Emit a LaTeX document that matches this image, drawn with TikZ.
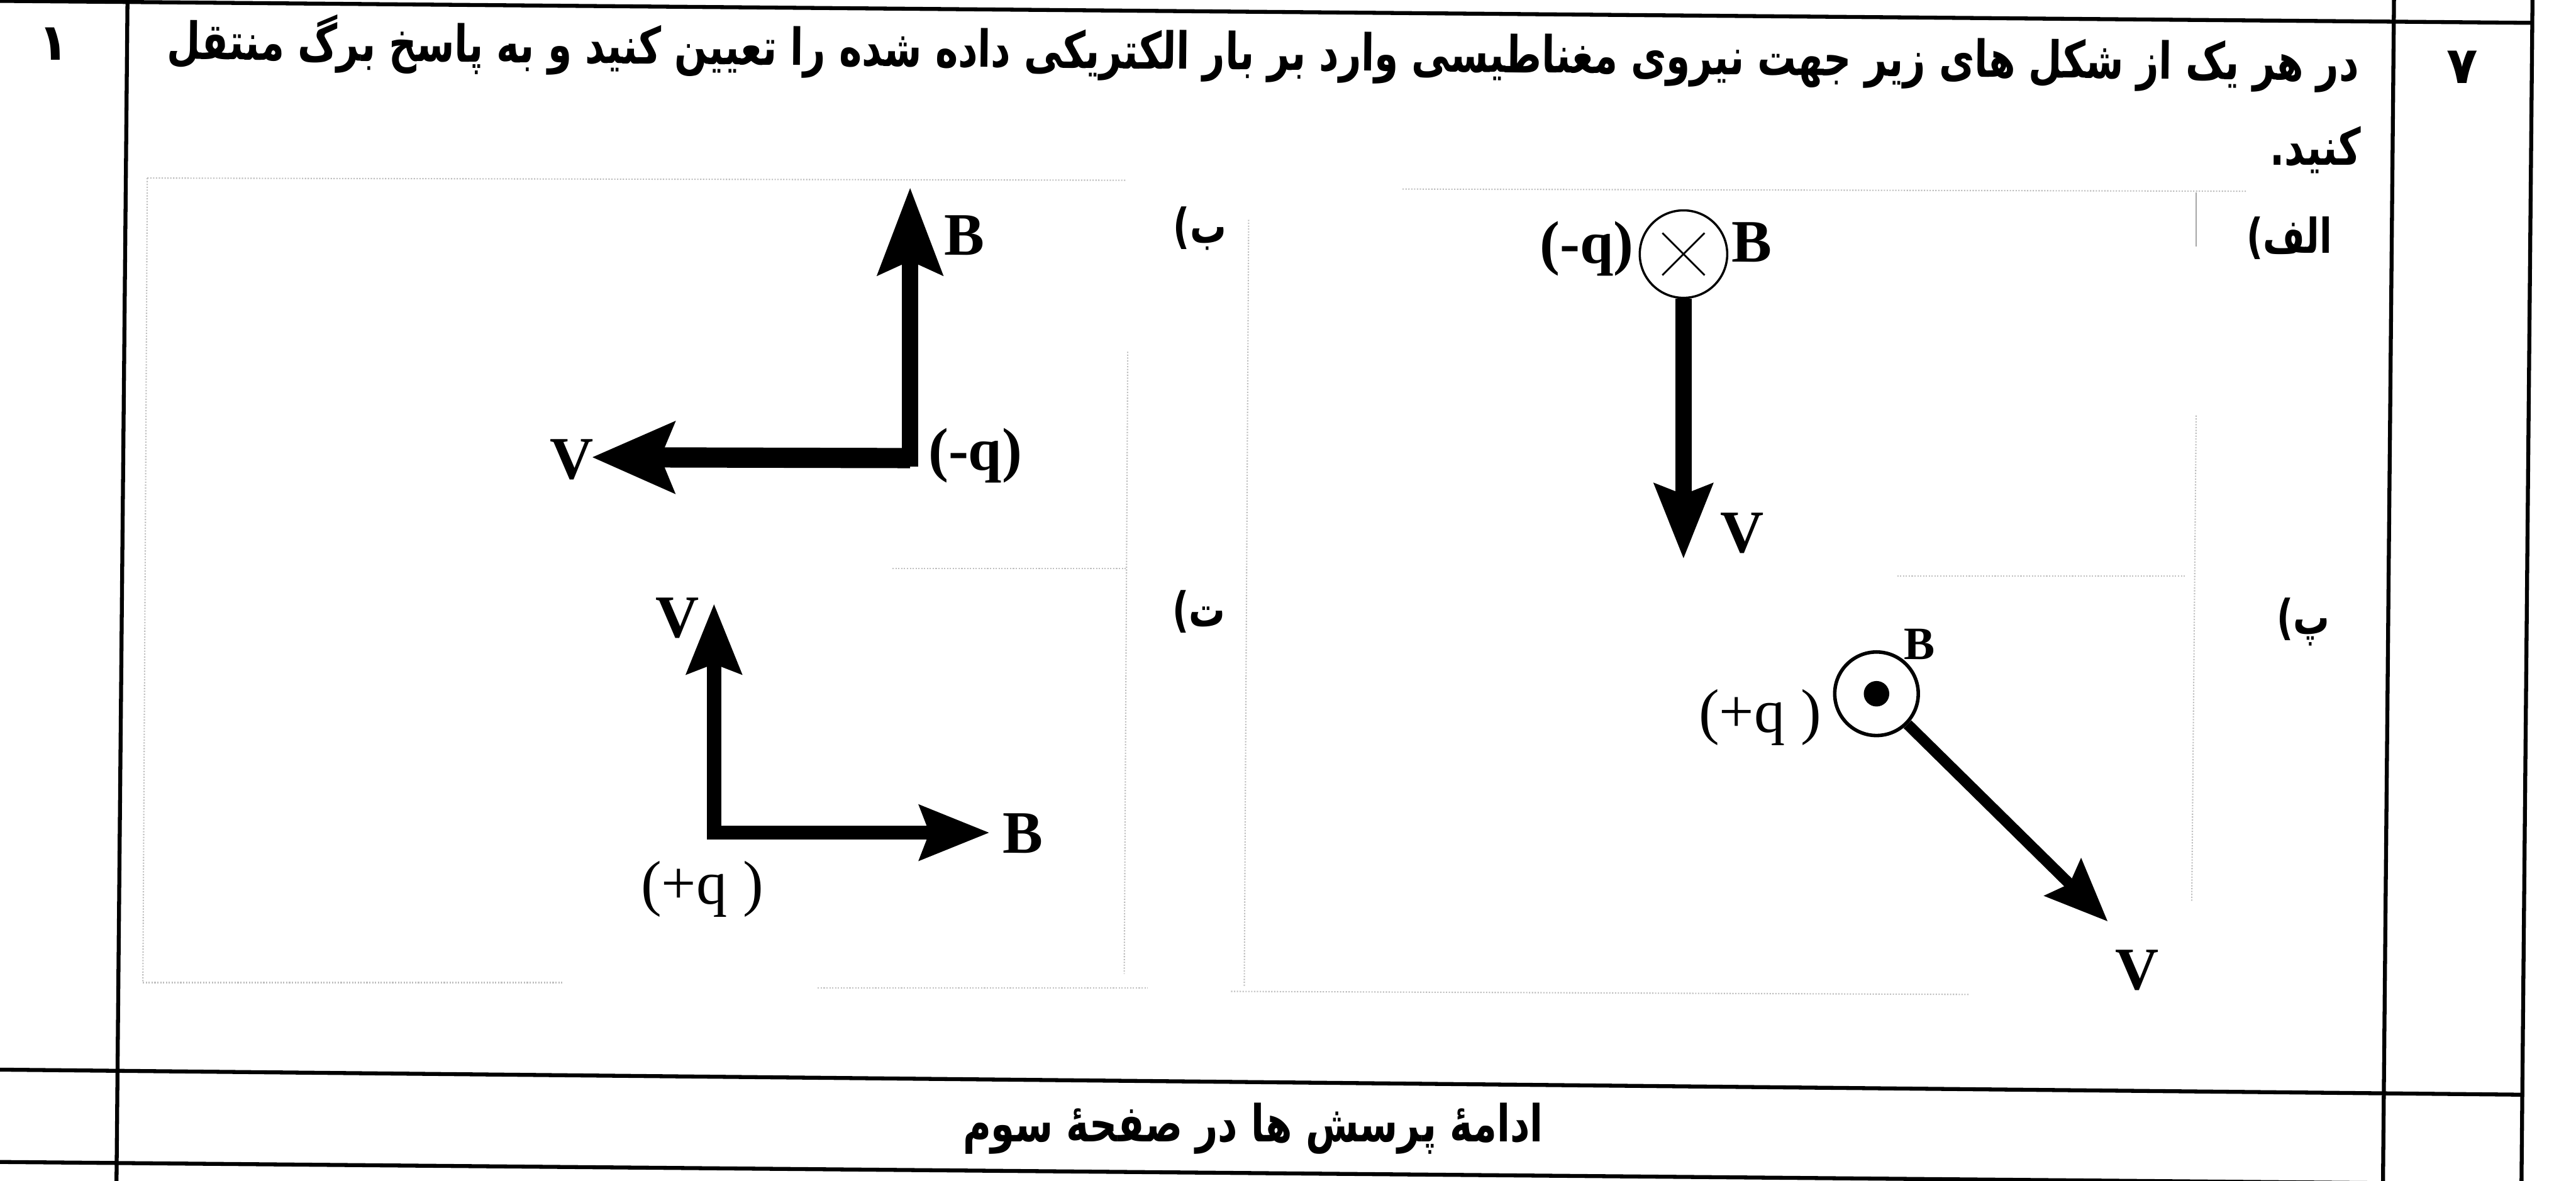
\documentclass[tikz,border=0pt]{standalone}
\usepackage{fontspec}
\usepackage{graphicx}
\setmainfont{Liberation Serif}
\newfontfamily\farsi[Script=Arabic]{DejaVu Sans}
\TeXXeTstate=1
\usetikzlibrary{arrows.meta}
% narrow the Persian lines a little, as in the scanned sheet
\newcommand{\rtl}[1]{\scalebox{0.755}[1]{\beginR #1\endR}}

\begin{document}
\begin{tikzpicture}
\tikzstyle{tablerule} = [line width=0.09cm]
\tikzstyle{scanframe} = [gray!50, densely dotted, line width=0.03cm]
\tikzstyle{fa} = [font=\farsi\bfseries\fontsize{33}{40}\selectfont, inner sep=0]
\tikzstyle{part} = [font=\farsi\bfseries\fontsize{31}{37}\selectfont, inner sep=0]
\tikzstyle{digit} = [font=\farsi\bfseries\fontsize{33}{40}\selectfont, inner sep=0]
\tikzstyle{lbl} = [font=\bfseries\fontsize{39}{44}\selectfont, inner sep=0]
\tikzstyle{chg} = [font=\fontsize{40}{46}\selectfont, inner sep=0]

\clip (0,0) rectangle (58.59,-26.86);
\fill[white] (0,0) rectangle (58.59,-26.86);

% table
\draw[tablerule] (0,-0.02) -- (57.60,-0.52);
\draw[tablerule] (0,-24.33) -- (57.36,-24.90);
\draw[tablerule] (0,-26.43) -- (58.59,-26.95);
\draw[tablerule] (2.90,0) -- (2.65,-26.86);
\draw[tablerule] (54.45,0) -- (54.20,-26.86);
\draw[tablerule] (57.60,0) -- (57.35,-26.86);

\node (Score) [digit] at (1.22,-1.00) {۱};
\node (Num) [digit] at (56.01,-1.52) {۷};
\node (Ask) [fa, anchor=base east, rotate=-0.57] at (53.66,-1.84) {\rtl{در هر یک از شکل های زیر جهت نیروی مغناطیسی وارد بر بار الکتریکی داده شده را تعیین کنید و به پاسخ برگ منتقل}};
\node (AskEnd) [fa, anchor=base east] at (53.70,-3.75) {\rtl{کنید.}};
\node (Next) [fa, anchor=base] at (28.50,-25.97) {\rtl{ادامهٔ پرسش ها در صفحهٔ سوم}};

% faint frames of the scanned figures
\draw[scanframe] (3.35,-4.05) -- (25.60,-4.10);
\draw[scanframe] (3.35,-4.05) -- (3.25,-22.35);
\draw[scanframe] (3.25,-22.35) -- (12.80,-22.35);
\draw[scanframe] (18.60,-22.47) -- (26.10,-22.47);
\draw[scanframe] (25.65,-8.00) -- (25.57,-22.15);
\draw[scanframe] (20.30,-12.93) -- (25.60,-12.93);
\draw[scanframe] (31.90,-4.30) -- (51.10,-4.35);
\draw[scanframe] (28.40,-5.00) -- (28.30,-22.45);
\draw[scanframe] (28.00,-22.55) -- (44.80,-22.62);
\draw[scanframe] (49.95,-9.45) -- (49.85,-20.50);
\draw[scanframe] (43.15,-13.10) -- (49.70,-13.10);
\draw[gray!70, line width=0.03cm] (49.95,-4.37) -- (49.95,-5.60);

% labels of the parts
\node (LabA) [part, anchor=east] at (53.05,-5.42) {\rtl{الف)}};
\node (LabB) [part, anchor=east] at (27.90,-5.20) {\rtl{ب)}};
\node (LabP) [part, anchor=east] at (53.00,-14.14) {\rtl{پ)}};
\node (LabT) [part, anchor=east] at (27.88,-13.91) {\rtl{ت)}};

% part alef
\node (BinA) [circle, draw, line width=0.05cm, minimum size=1.99cm, inner sep=0] at (38.29,-5.78) {};
\draw[line width=0.04cm] (BinA.center) ++(-0.48,0.48) -- ++(0.96,-0.96);
\draw[line width=0.04cm] (BinA.center) ++(0.48,0.48) -- ++(-0.96,-0.96);
\coordinate (VtipA) at (38.29,-12.72);
\draw[line width=0.38cm, -{Stealth[length=1.69cm, width=1.28cm, inset=0.22cm]}] (BinA) -- (VtipA);
\node (QA) [lbl] at (36.09,-5.65) {(-q)};
\node (BlA) [lbl] at (39.84,-5.51) {B};
\node (VlA) [lbl] at (39.62,-12.13) {V};

% part be
\coordinate (QB) at (20.70,-10.42);
\coordinate (BtipB) at (20.70,-4.26);
\coordinate (VtipB) at (13.46,-10.40);
\draw[line width=0.38cm, line cap=rect, -{Stealth[length=1.97cm, width=1.44cm, inset=0.3cm]}] (QB) -- (BtipB);
\draw[line width=0.46cm, -{Stealth[length=1.86cm, width=1.58cm, inset=0.3cm]}] (QB) -- (VtipB);
\node (BlB) [lbl] at (21.93,-5.35) {B};
\node (QBl) [lbl] at (22.18,-10.36) {(-q)};
\node (VlB) [lbl] at (13.01,-10.45) {V};

% part pe
\node (BinP) [circle, draw, line width=0.08cm, minimum size=1.90cm, inner sep=0] at (42.68,-15.78) {};
\node (DotP) [circle, fill, minimum size=0.58cm, inner sep=0] at (BinP.center) {};
\coordinate (VtipP) at (47.94,-20.96);
\draw[line width=0.25cm, -{Stealth[length=1.42cm, width=1.16cm, inset=0.2cm]}] (BinP) -- (VtipP);
\node (BlP) [font=\bfseries\fontsize{30}{36}\selectfont, inner sep=0] at (43.65,-14.66) {B};
\node (QP) [chg] at (40.03,-16.32) {(+q )};
\node (VlP) [lbl] at (48.61,-22.07) {V};

% part te
\coordinate (QT) at (16.24,-18.94);
\coordinate (VtipT) at (16.24,-13.73);
\coordinate (BtipT) at (22.51,-18.94);
\draw[line width=0.32cm, line cap=rect, -{Stealth[length=1.58cm, width=1.22cm, inset=0.21cm]}] (QT) -- (VtipT);
\draw[line width=0.32cm, -{Stealth[length=1.58cm, width=1.22cm, inset=0.21cm]}] (QT) -- (BtipT);
\node (VlT) [lbl] at (15.40,-14.06) {V};
\node (BlT) [lbl] at (23.27,-18.96) {B};
\node (QTl) [chg] at (15.97,-20.23) {(+q )};
\end{tikzpicture}
\end{document}
